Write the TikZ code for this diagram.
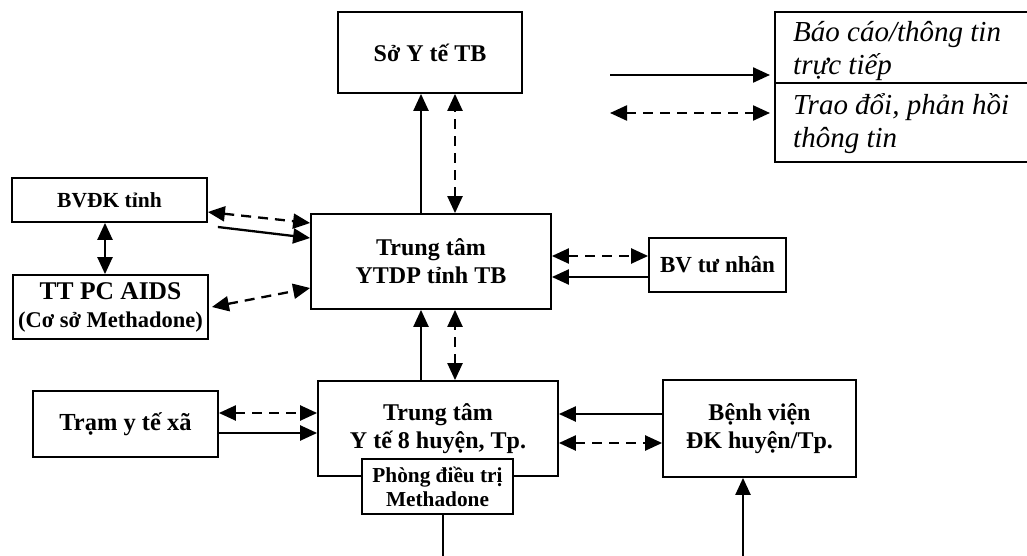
\documentclass[tikz,border=0pt]{standalone}
\usepackage{fontspec}
\setmainfont{Liberation Serif}
\usepackage{tikz}
\usetikzlibrary{arrows.meta}

\begin{document}
\begin{tikzpicture}[x=1pt, y=-1pt,
        box/.style={rectangle, draw, line width=1.8pt, fill=white, inner sep=0pt, align=center, font=\bfseries\fontsize{24}{28}\selectfont},
        arrow/.style={-{Triangle[length=17pt, width=15pt]}, line width=2.3pt},
        dualarrow/.style={{Triangle[length=17pt, width=15pt]}-{Triangle[length=17pt, width=15pt]}, line width=2.3pt},
        infoarrow/.style={dualarrow, dash pattern=on 10pt off 7pt},
        legtext/.style={anchor=north west, inner sep=0pt, align=left, font=\itshape\fontsize{29}{33}\selectfont}
    ]
        \useasboundingbox (0,0) rectangle (1027,556);

        \node[box, minimum width=184pt, minimum height=81pt] (so) at (430,52.5) {Sở Y tế TB};
        \node[box, minimum width=240pt, minimum height=95pt] (ytdp) at (431,261.5) {Trung tâm\\YTDP tỉnh TB};
        \node[box, minimum width=195pt, minimum height=44pt, font=\bfseries\fontsize{21.5}{26}\selectfont] (bvdk) at (109.5,200) {BVĐK tỉnh};
        \node[box, minimum width=195pt, minimum height=64pt, font=\bfseries\fontsize{22.5}{28}\selectfont] (pcaids) at (110.5,307) {{\fontsize{25.5}{28}\selectfont TT PC AIDS}\\(Cơ sở Methadone)};
        \node[box, minimum width=137pt, minimum height=54pt, font=\bfseries\fontsize{23}{28}\selectfont] (bvtn) at (717.5,265) {BV tư nhân};
        \node[box, minimum width=185pt, minimum height=66pt, font=\bfseries\fontsize{24.5}{28}\selectfont] (tram) at (125.5,424) {Trạm y tế xã};
        \node[box, minimum width=240pt, minimum height=95pt] (ttyt) at (438,428.5) {Trung tâm\\Y tế 8 huyện, Tp.};
        \node[box, minimum width=151pt, minimum height=55pt, font=\bfseries\fontsize{21.3}{24}\selectfont] (phong) at (437.5,486.5) {Phòng điều trị\\Methadone};
        \node[box, minimum width=193pt, minimum height=97pt] (bvh) at (759.5,428.5) {Bệnh viện\\ĐK huyện/Tp.};

        \coordinate (phbot) at (443,556);
        \coordinate (bvhbot) at (743,556);

        \draw[arrow] ([xshift=-10pt]ytdp.north) -- ([xshift=-9pt]so.south);
        \draw[infoarrow] ([xshift=24pt]ytdp.north) -- ([xshift=25pt]so.south);
        \draw[arrow] ([xshift=-17pt]ttyt.north) -- ([xshift=-10pt]ytdp.south);
        \draw[infoarrow] ([xshift=17pt]ttyt.north) -- ([xshift=24pt]ytdp.south);

        \draw[dualarrow] ([xshift=-4.5pt]bvdk.south) -- ([xshift=-5.5pt]pcaids.north);
        \draw[infoarrow] ([yshift=-12pt]bvdk.east) -- ([yshift=38.5pt]ytdp.west);
        \draw[arrow] ([shift={(10pt,-27pt)}]bvdk.east) -- ([yshift=23.5pt]ytdp.west);
        \draw[infoarrow] ([xshift=3pt]pcaids.east) -- ([yshift=-26.5pt]ytdp.west);

        \draw[infoarrow] ([yshift=5.5pt]ytdp.east) -- ([yshift=9pt]bvtn.west);
        \draw[arrow] ([yshift=-12pt]bvtn.west) -- ([yshift=-15.5pt]ytdp.east);

        \draw[infoarrow] ([yshift=11pt]tram.east) -- ([yshift=15.5pt]ttyt.west);
        \draw[arrow] ([yshift=-9pt]tram.east) -- ([yshift=-4.5pt]ttyt.west);
        \draw[arrow] ([yshift=14.5pt]bvh.west) -- ([yshift=14.5pt]ttyt.east);
        \draw[infoarrow] ([yshift=-14.5pt]ttyt.east) -- ([yshift=-14.5pt]bvh.west);

        \draw[line width=1.8pt] (phbot |- phong.south) -- (phbot);
        \draw[arrow] (bvhbot) -- (bvhbot |- bvh.south);

        % legend
        \draw[line width=1.3pt] (1027,12) -| (775,162) -- (1027,162);
        \draw[line width=1.3pt] (775,83) -- (1027,83);
        \node[legtext] (legsolid) at (793,21) {Báo cáo/thông tin\\trực tiếp};
        \node[legtext] (leginfo) at (793,93) {Trao đổi, phản hồi\\thông tin};
        \coordinate (legL1) at (610,75);
        \coordinate (legR1) at (770,75);
        \coordinate (legL2) at (610,113);
        \coordinate (legR2) at (770,113);
        \draw[arrow] (legL1) -- (legR1);
        \draw[infoarrow] (legL2) -- (legR2);
\end{tikzpicture}
\end{document}
